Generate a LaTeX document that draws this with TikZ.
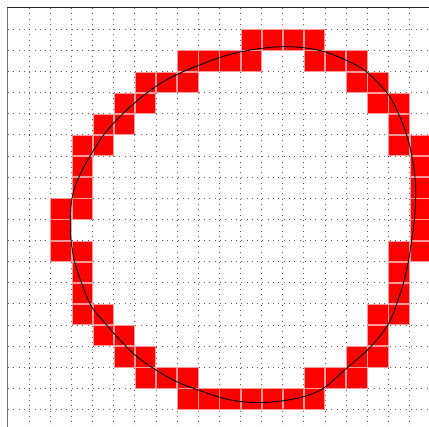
\documentclass[tikz,border=0pt]{standalone}
\begin{document}
\begin{tikzpicture}[x=1pt,y=-1pt,
  gridline/.style={black!65, line width=0.8pt, dash pattern=on 1pt off 4.3pt},
  cellbox/.style={fill=red, draw=red!40, line width=0.5pt},
  curveline/.style={black, line width=0.9pt},
  leftaxis/.style={black!55, line width=1.7pt},
  topaxis/.style={black!85, line width=1pt}]
\def\cs{21.13}
\useasboundingbox (0,0) rectangle (429,427);
\clip (0,0) rectangle (429,427);
\fill[white] (0,0) rectangle (429,427);
% grid
\foreach \k in {1,...,19}{
  \draw[gridline] ({8+\cs*\k},8) -- ({8+\cs*\k},427);
  \draw[gridline] (8,{8+\cs*\k}) -- (429,{8+\cs*\k});
}
% cells
\foreach \c/\r in {11/1,12/1,13/1,14/1,
  8/2,9/2,10/2,11/2,14/2,15/2,16/2,
  6/3,7/3,8/3,16/3,17/3,
  5/4,6/4,17/4,18/4,
  4/5,5/5,18/5,
  3/6,4/6,18/6,19/6,
  3/7,19/7, 3/8,19/8,
  2/9,3/9,19/9,
  2/10,19/10,
  2/11,3/11,18/11,19/11,
  3/12,18/12, 3/13,18/13,
  3/14,4/14,17/14,18/14,
  4/15,5/15,17/15,
  5/16,6/16,16/16,17/16,
  6/17,7/17,8/17,14/17,15/17,16/17,
  8/18,9/18,10/18,11/18,12/18,13/18,14/18}{
  \path[cellbox] ({8+\cs*\c+0.4},{8+\cs*\r+0.4}) rectangle ({8+\cs*(\c+1)-0.4},{8+\cs*(\r+1)-0.4});
}
% curve
\draw[curveline] plot[smooth cycle, tension=0.6] coordinates {
(70.3,220) (72,198) (78.5,178) (90.7,155) (106.7,131) (130,107) (155,87)
(177,74.5) (198.3,65.5) (220,57.5) (240,52) (261.7,48.3) (283,46.7)
(303.3,47.7) (324.3,51.7) (345.7,60) (366.7,72) (387.3,93.3) (398.3,113.3)
(406.7,135) (411.7,155) (415,176.7) (415.7,198.3) (414.3,220) (411.7,240)
(408.3,261.7) (403.3,283.3) (396.7,304) (387.7,325) (370.7,346.7)
(346.7,368.3) (323.3,388.3) (303.3,396.7) (283.3,400.7) (261.7,402.5)
(240,401.5) (220,397.3) (198.3,390) (176.7,381.7) (153.3,368.3) (135,355)
(120,340) (106.7,325) (91.7,306.7) (81.7,283.3) (75,263.3) (71,240)};
% axes
\draw[leftaxis] (7.5,8) -- (7.5,427);
\draw[topaxis] (7,8) -- (429,8);
\end{tikzpicture}
\end{document}
